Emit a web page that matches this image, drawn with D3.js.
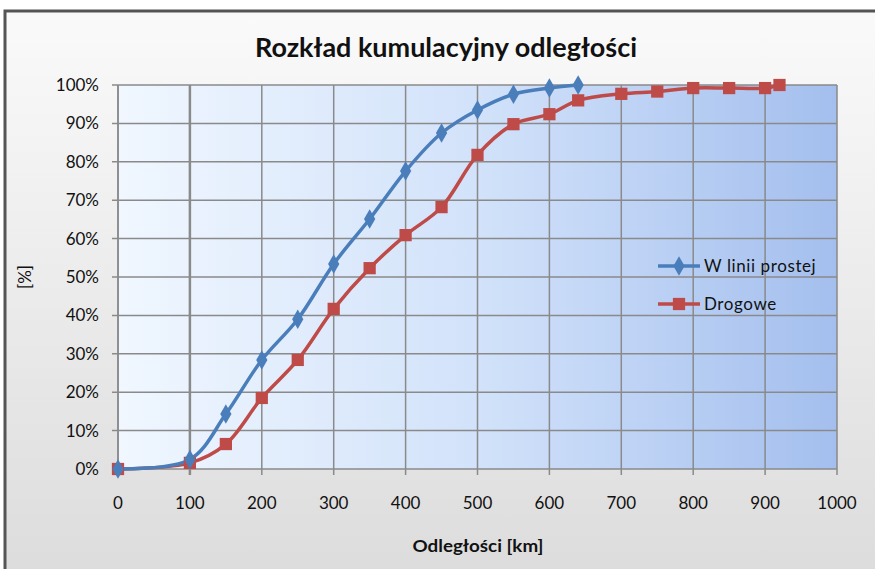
<!DOCTYPE html>
<html><head><meta charset="utf-8">
<script src="https://cdn.jsdelivr.net/npm/d3@7"></script>
<style>body{margin:0;background:#fff}svg{display:block}text{font-family:Lato,"Open Sans",sans-serif}</style>
</head><body>
<svg id="c" width="875" height="569"></svg>
<script>
const distances = [0,100,150,200,250,300,350,400,450,500,550,600,640];
const straightLine = [0,2.5,14.3,28.4,39,53.4,65.1,77.6,87.5,93.5,97.6,99.2,100];
const roadDistances = [0,100,150,200,250,300,350,400,450,500,550,600,640,700,750,800,850,900,920];
const roadValues = [0,1.6,6.5,18.5,28.4,41.7,52.3,60.9,68.2,81.8,89.8,92.4,96,97.7,98.3,99.2,99.2,99.2,100];
const xTicks = [0,100,200,300,400,500,600,700,800,900,1000];
const yTicks = [0,10,20,30,40,50,60,70,80,90,100];
const seriesNames = ["W linii prostej","Drogowe"];
const colors = ["#4a7ebb","#be4b48"];
const title = "Rozkład kumulacyjny odległości";
const xTitle = "Odległości [km]";
const yTitle = "[%]";

const svg = d3.select("#c");
const defs = svg.append("defs");
const bg = defs.append("linearGradient").attr("id","bg").attr("x1",0).attr("y1",0).attr("x2",0).attr("y2",1);
bg.append("stop").attr("offset","0%").attr("stop-color","#fafafa");
bg.append("stop").attr("offset","100%").attr("stop-color","#dcdcdc");
const pg = defs.append("linearGradient").attr("id","pg").attr("x1",0).attr("y1",0).attr("x2",1).attr("y2",0);
pg.append("stop").attr("offset","0%").attr("stop-color","#f0f7ff");
pg.append("stop").attr("offset","50%").attr("stop-color","#d2e2fa");
pg.append("stop").attr("offset","100%").attr("stop-color","#a4bfee");

svg.append("rect").attr("x",5).attr("y",11).attr("width",880).attr("height",570)
  .attr("fill","url(#bg)").attr("stroke","#555").attr("stroke-width",3);

const L=118,R=837,T=85,B=469;
const x = d3.scaleLinear().domain([0,1000]).range([L,R]);
const y = d3.scaleLinear().domain([0,100]).range([B,T]);

svg.append("rect").attr("x",L).attr("y",T).attr("width",R-L).attr("height",B-T).attr("fill","url(#pg)");

// grid
svg.append("g").selectAll("line").data(yTicks).join("line")
  .attr("x1",L-6).attr("x2",R).attr("y1",d=>y(d)).attr("y2",d=>y(d))
  .attr("stroke","#8a8a8a").attr("stroke-width",1.5);
svg.append("g").selectAll("line").data(xTicks).join("line")
  .attr("y1",T).attr("y2",B+6).attr("x1",d=>x(d)).attr("x2",d=>x(d))
  .attr("stroke","#8a8a8a").attr("stroke-width",d=>d===100?2.5:1.5);
svg.append("line").attr("x1",L).attr("x2",L).attr("y1",T).attr("y2",B).attr("stroke","#8a8a8a").attr("stroke-width",1.5);

// tick labels
svg.append("g").selectAll("text").data(yTicks).join("text")
  .attr("x",99).attr("y",d=>y(d)+6).attr("text-anchor","end")
  .attr("font-size",17).attr("fill","#111").text(d=>d+"%");
svg.append("g").selectAll("text").data(xTicks).join("text")
  .attr("x",d=>x(d)).attr("y",509).attr("text-anchor","middle")
  .attr("font-size",17).attr("fill","#111").text(d=>d);

svg.append("text").attr("x",446).attr("y",57).attr("text-anchor","middle")
  .attr("font-size",26).attr("font-weight","bold").attr("fill","#111")
  .attr("textLength",382).attr("lengthAdjust","spacingAndGlyphs").text(title);
svg.append("text").attr("x",478).attr("y",552).attr("text-anchor","middle")
  .attr("font-size",17).attr("font-weight","bold").attr("fill","#111")
  .attr("textLength",131).attr("lengthAdjust","spacingAndGlyphs").text(xTitle);
svg.append("text").attr("transform","translate(31,277) rotate(-90)").attr("text-anchor","middle")
  .attr("font-size",17).attr("fill","#111").text(yTitle);

const line = d3.line().curve(d3.curveCatmullRom.alpha(0.5)).x(d=>x(d[0])).y(d=>y(d[1]));
const s1 = distances.map((d,i)=>[d,straightLine[i]]);
const s2 = roadDistances.map((d,i)=>[d,roadValues[i]]);

svg.append("path").datum(s2).attr("d",line).attr("fill","none").attr("stroke",colors[1]).attr("stroke-width",3.5);
svg.append("path").datum(s1).attr("d",line).attr("fill","none").attr("stroke",colors[0]).attr("stroke-width",3.5);

const sq = d3.symbol().type(d3.symbolSquare).size(150);
const dm = d3.symbol().type(d3.symbolDiamond).size(110);
svg.append("g").selectAll("path").data(s2).join("path")
  .attr("transform",d=>`translate(${x(d[0])},${y(d[1])})`).attr("d",sq).attr("fill",colors[1]);
svg.append("g").selectAll("path").data(s1).join("path")
  .attr("transform",d=>`translate(${x(d[0])},${y(d[1])})`).attr("d",dm).attr("fill",colors[0]);

// legend
const lg = svg.append("g");
[0,1].forEach(i=>{
  const ly = 266 + i*38;
  lg.append("line").attr("x1",658).attr("x2",700).attr("y1",ly).attr("y2",ly).attr("stroke",colors[i]).attr("stroke-width",3.5);
  lg.append("path").attr("transform",`translate(679,${ly})`).attr("d",i===0?dm:sq).attr("fill",colors[i]);
  lg.append("text").attr("x",704).attr("y",ly+6).attr("font-size",17).attr("fill","#111")
    .attr("letter-spacing",0.6).text(seriesNames[i]);
});
</script>
</body></html>
